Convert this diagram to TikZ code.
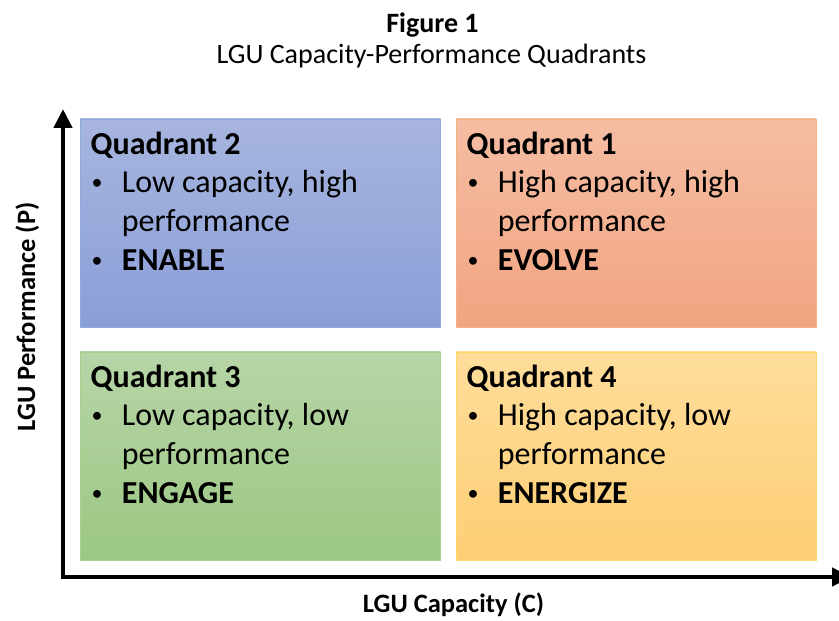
\documentclass[tikz,border=0pt]{standalone}
\usepackage{fontspec}
\setmainfont{Carlito}
\usetikzlibrary{arrows.meta}
\definecolor{qtwoT}{RGB}{167,181,222}
\definecolor{qtwoB}{RGB}{138,158,216}
\definecolor{qtwoE}{RGB}{143,170,220}
\definecolor{qoneT}{RGB}{245,189,163}
\definecolor{qoneB}{RGB}{242,164,129}
\definecolor{qoneE}{RGB}{244,177,131}
\definecolor{qthreeT}{RGB}{183,213,167}
\definecolor{qthreeB}{RGB}{156,199,131}
\definecolor{qthreeE}{RGB}{169,209,142}
\definecolor{qfourT}{RGB}{254,221,155}
\definecolor{qfourB}{RGB}{253,206,116}
\definecolor{qfourE}{RGB}{255,217,102}
\tikzset{
  qbox/.style={draw=#1E, line width=0.8bp, top color=#1T, bottom color=#1B, shading angle=0},
  qhead/.style={anchor=base west, inner sep=0pt, font=\fontsize{32bp}{38bp}\selectfont\bfseries},
  qline/.style={anchor=base west, inner sep=0pt, font=\fontsize{32bp}{38bp}\selectfont},
  qdot/.style={anchor=base west, inner sep=0pt, yshift=3.5bp, font=\fontsize{22bp}{26bp}\selectfont},
  qbold/.style={anchor=base west, inner sep=0pt, font=\fontsize{32bp}{38bp}\selectfont\bfseries},
  axisline/.style={line width=4.5bp, line join=miter, {Triangle[width=18bp,length=19bp]}-{Triangle[width=18bp,length=19bp]}},
  axlabel/.style={inner sep=0pt, anchor=base, font=\fontsize{26.5bp}{30bp}\selectfont\bfseries},
}
\begin{document}
\begin{tikzpicture}[x=1bp,y=1bp]
\useasboundingbox (0,0) rectangle (839,621);
% titles
\node[anchor=base, inner sep=0pt, font=\fontsize{28bp}{32bp}\selectfont\bfseries] (title) at (432.5,588) {Figure 1};
\node[anchor=base, inner sep=0pt, font=\fontsize{28bp}{32bp}\selectfont] (subtitle) at (431.5,557) {LGU Capacity-Performance Quadrants};
% quadrant boxes
\path[qbox=qtwo] (80,294) rectangle (440.5,502);
\path[qbox=qone] (456,294) rectangle (816,502);
\path[qbox=qthree] (80,60.5) rectangle (440.5,269);
\path[qbox=qfour] (456,60.5) rectangle (816,269);
% Quadrant 2
\node[qhead] (q2h) at (90.5,466.5) {Quadrant 2};
\node[qdot] (q2b1) at (91.5,428) {•};
\node[qline] (q2l1) at (121.7,428) {Low capacity, high};
\node[qline] (q2l2) at (121.7,389) {performance};
\node[qdot] (q2b2) at (91.5,350) {•};
\node[qbold] (q2l3) at (121.7,350) {ENABLE};
% Quadrant 1
\node[qhead] (q1h) at (466.5,466.5) {Quadrant 1};
\node[qdot] (q1b1) at (467.5,428) {•};
\node[qline] (q1l1) at (497.7,428) {High capacity, high};
\node[qline] (q1l2) at (497.7,389) {performance};
\node[qdot] (q1b2) at (467.5,350) {•};
\node[qbold] (q1l3) at (497.7,350) {EVOLVE};
% Quadrant 3
\node[qhead] (q3h) at (90.5,233.5) {Quadrant 3};
\node[qdot] (q3b1) at (91.5,195) {•};
\node[qline] (q3l1) at (121.7,195) {Low capacity, low};
\node[qline] (q3l2) at (121.7,156) {performance};
\node[qdot] (q3b2) at (91.5,117) {•};
\node[qbold] (q3l3) at (121.7,117) {ENGAGE};
% Quadrant 4
\node[qhead] (q4h) at (466.5,233.5) {Quadrant 4};
\node[qdot] (q4b1) at (467.5,195) {•};
\node[qline] (q4l1) at (497.7,195) {High capacity, low};
\node[qline] (q4l2) at (497.7,156) {performance};
\node[qdot] (q4b2) at (467.5,117) {•};
\node[qbold] (q4l3) at (497.7,117) {ENERGIZE};
% axes
\coordinate (ytip) at (63,512);
\coordinate (origin) at (63,44);
\coordinate (xtip) at (851,44);
\draw[axisline] (ytip) -- (origin) -- (xtip);
\node[axlabel] (xlab) at (453.5,8) {LGU Capacity (C)};
\node[axlabel, rotate=90] (ylab) at (35,304) {LGU Performance (P)};
\end{tikzpicture}
\end{document}
